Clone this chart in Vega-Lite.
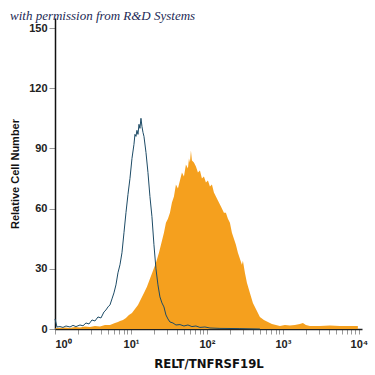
{
  "$schema": "https://vega.github.io/schema/vega-lite/v6.json",
  "autosize": "none",
  "width": 307,
  "height": 311,
  "padding": {"left": 55, "top": 18, "right": 13, "bottom": 46},
  "background": "white",
  "config": {"view": {"stroke": null}},
  "title": {
    "text": "with permission from R&D Systems",
    "anchor": "start",
    "frame": "group",
    "orient": "top",
    "offset": 0,
    "dx": -45,
    "dy": 5,
    "font": "Liberation Serif",
    "fontStyle": "italic",
    "fontWeight": "normal",
    "fontSize": 13,
    "color": "#1c2a55"
  },
  "datasets": {
    "stained": [
      {"x": 1.0, "count": 0.3}, {"x": 1.095, "count": 0.5}, {"x": 1.354, "count": 0.8}, {"x": 1.575, "count": 0.5},
      {"x": 1.833, "count": 1}, {"x": 2.133, "count": 0.8}, {"x": 2.482, "count": 1.2}, {"x": 2.887, "count": 1},
      {"x": 3.36, "count": 1.5}, {"x": 3.909, "count": 1.2}, {"x": 4.549, "count": 2}, {"x": 5.292, "count": 2},
      {"x": 6.158, "count": 3}, {"x": 6.744, "count": 3.5}, {"x": 7.166, "count": 4}, {"x": 7.848, "count": 4.5},
      {"x": 8.596, "count": 5.5}, {"x": 9.412, "count": 7}, {"x": 10.31, "count": 8}, {"x": 11.29, "count": 10},
      {"x": 12.37, "count": 12}, {"x": 13.54, "count": 15}, {"x": 14.83, "count": 18}, {"x": 16.24, "count": 21},
      {"x": 17.78, "count": 25}, {"x": 19.48, "count": 29}, {"x": 21.33, "count": 33}, {"x": 23.36, "count": 38},
      {"x": 25.58, "count": 44}, {"x": 27.18, "count": 48}, {"x": 28.87, "count": 53}, {"x": 30.68, "count": 55},
      {"x": 32.6, "count": 58}, {"x": 34.64, "count": 63}, {"x": 36.8, "count": 66}, {"x": 39.09, "count": 72},
      {"x": 41.53, "count": 70}, {"x": 44.13, "count": 74}, {"x": 46.89, "count": 78}, {"x": 49.82, "count": 76},
      {"x": 52.92, "count": 82}, {"x": 56.23, "count": 80}, {"x": 57.98, "count": 85}, {"x": 59.74, "count": 83},
      {"x": 61.58, "count": 89}, {"x": 63.47, "count": 84}, {"x": 67.44, "count": 83}, {"x": 71.66, "count": 81},
      {"x": 76.12, "count": 78}, {"x": 80.9, "count": 79}, {"x": 85.96, "count": 75}, {"x": 91.31, "count": 76},
      {"x": 97.01, "count": 73}, {"x": 103.1, "count": 74}, {"x": 109.5, "count": 71}, {"x": 116.4, "count": 72},
      {"x": 123.6, "count": 68}, {"x": 131.3, "count": 66}, {"x": 139.5, "count": 64}, {"x": 148.3, "count": 62},
      {"x": 157.5, "count": 60}, {"x": 167.4, "count": 58}, {"x": 177.8, "count": 58}, {"x": 188.9, "count": 55},
      {"x": 200.7, "count": 53}, {"x": 213.3, "count": 48}, {"x": 226.6, "count": 45}, {"x": 240.7, "count": 42},
      {"x": 255.8, "count": 38}, {"x": 271.8, "count": 35}, {"x": 288.7, "count": 32}, {"x": 297.6, "count": 34},
      {"x": 316.2, "count": 28}, {"x": 336.0, "count": 23}, {"x": 368.1, "count": 18}, {"x": 403.0, "count": 13},
      {"x": 441.3, "count": 10}, {"x": 498.2, "count": 6}, {"x": 562.3, "count": 4.5}, {"x": 634.7, "count": 3.5},
      {"x": 716.6, "count": 2.5}, {"x": 809.0, "count": 2}, {"x": 913.1, "count": 1.5}, {"x": 1062, "count": 2},
      {"x": 1237, "count": 1.8}, {"x": 1439, "count": 2}, {"x": 1674, "count": 2.5}, {"x": 1834, "count": 3},
      {"x": 2007, "count": 2}, {"x": 2266, "count": 1.5}, {"x": 3068, "count": 1.5}, {"x": 4153, "count": 1.8},
      {"x": 5623, "count": 1.5}, {"x": 7612, "count": 1.5}, {"x": 9700, "count": 1.5}
    ],
    "isotype": [
      {"x": 1.0, "count": 5}, {"x": 1.062, "count": 1}, {"x": 1.164, "count": 1.2}, {"x": 1.274, "count": 0.8},
      {"x": 1.395, "count": 1.5}, {"x": 1.575, "count": 1}, {"x": 1.725, "count": 1.8}, {"x": 1.889, "count": 1.2},
      {"x": 2.133, "count": 2}, {"x": 2.336, "count": 1.6}, {"x": 2.558, "count": 3}, {"x": 2.802, "count": 2.5},
      {"x": 3.068, "count": 4.5}, {"x": 3.36, "count": 4}, {"x": 3.68, "count": 6}, {"x": 4.03, "count": 5.5},
      {"x": 4.413, "count": 8.5}, {"x": 4.69, "count": 9.5}, {"x": 4.982, "count": 11}, {"x": 5.292, "count": 12},
      {"x": 5.623, "count": 15}, {"x": 5.974, "count": 18}, {"x": 6.347, "count": 22}, {"x": 6.744, "count": 28},
      {"x": 7.166, "count": 32}, {"x": 7.612, "count": 38}, {"x": 8.09, "count": 48}, {"x": 8.596, "count": 58},
      {"x": 9.131, "count": 67}, {"x": 9.7, "count": 75}, {"x": 10.31, "count": 85}, {"x": 10.95, "count": 92},
      {"x": 11.29, "count": 97}, {"x": 11.64, "count": 96}, {"x": 11.99, "count": 99}, {"x": 12.37, "count": 97},
      {"x": 12.75, "count": 102}, {"x": 13.13, "count": 100}, {"x": 13.54, "count": 105}, {"x": 13.95, "count": 101},
      {"x": 14.39, "count": 98}, {"x": 14.83, "count": 96}, {"x": 15.76, "count": 88}, {"x": 16.74, "count": 78},
      {"x": 17.78, "count": 66}, {"x": 18.89, "count": 56}, {"x": 20.07, "count": 42}, {"x": 21.33, "count": 30},
      {"x": 22.66, "count": 22}, {"x": 24.07, "count": 16}, {"x": 25.58, "count": 13}, {"x": 27.18, "count": 11},
      {"x": 28.87, "count": 7}, {"x": 30.68, "count": 5}, {"x": 32.6, "count": 3.5}, {"x": 35.69, "count": 3},
      {"x": 39.09, "count": 2}, {"x": 44.13, "count": 2.2}, {"x": 49.82, "count": 1.5}, {"x": 56.23, "count": 2},
      {"x": 63.47, "count": 1.2}, {"x": 71.66, "count": 1.5}, {"x": 80.9, "count": 0.8}, {"x": 94.13, "count": 1},
      {"x": 109.5, "count": 0.5}, {"x": 148.3, "count": 0.3}, {"x": 271.8, "count": 0.2}, {"x": 498.2, "count": 0}
    ]
  },
  "encoding": {
    "x": {
      "field": "x",
      "type": "quantitative",
      "scale": {"type": "log", "domain": [1, 11000], "nice": false},
      "axis": {
        "title": "RELT/TNFRSF19L",
        "titleFont": "DejaVu Sans Condensed, Liberation Sans, sans-serif",
        "titleFontSize": 13,
        "titleFontWeight": "bold",
        "titleColor": "#111",
        "titlePadding": 8,
        "values": [1, 2, 3, 4, 5, 6, 7, 8, 9, 10, 20, 30, 40, 50, 60, 70, 80, 90, 100, 200, 300, 400, 500, 600, 700, 800, 900, 1000, 2000, 3000, 4000, 5000, 6000, 7000, 8000, 9000, 10000],
        "labelExpr": "datum.value == 1 ? '10⁰' : datum.value == 10 ? '10¹' : datum.value == 100 ? '10²' : datum.value == 1000 ? '10³' : datum.value == 10000 ? '10⁴' : ''",
        "labelOverlap": false,
        "labelFont": "Liberation Sans",
        "labelFontSize": 11,
        "labelFontWeight": "bold",
        "labelColor": "#222",
        "labelPadding": 4,
        "tickSize": 5,
        "tickColor": "#999",
        "domainColor": "#222",
        "domainWidth": 1.5,
        "grid": false
      }
    },
    "y": {
      "field": "count",
      "type": "quantitative",
      "scale": {"domain": [0, 155], "nice": false},
      "axis": {
        "title": "Relative Cell Number",
        "titleFont": "Liberation Sans",
        "titleFontSize": 11,
        "titleFontWeight": "bold",
        "titleColor": "#111",
        "titlePadding": 8,
        "values": [0, 30, 60, 90, 120, 150],
        "labelFont": "Liberation Sans",
        "labelFontSize": 11,
        "labelFontWeight": "bold",
        "labelColor": "#222",
        "labelPadding": 2,
        "tickSize": 6,
        "tickColor": "#999",
        "domainColor": "#111",
        "domainWidth": 1.5,
        "grid": false
      }
    }
  },
  "layer": [
    {
      "data": {"name": "stained"},
      "mark": {"type": "area", "color": "#F5A01E", "opacity": 1}
    },
    {
      "data": {"name": "isotype"},
      "mark": {"type": "line", "color": "#1D4B66", "strokeWidth": 1}
    }
  ]
}
